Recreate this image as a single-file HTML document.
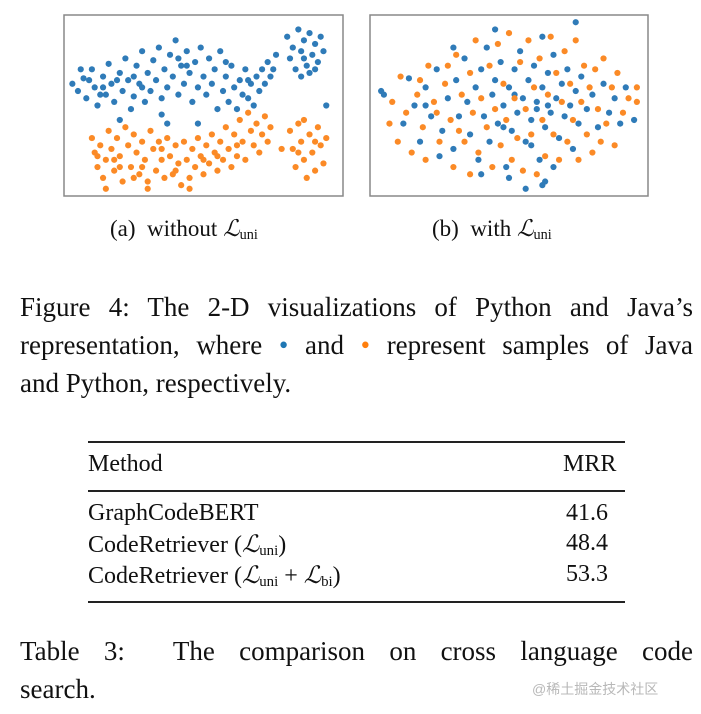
<!DOCTYPE html>
<html><head><meta charset="utf-8"><style>
body{margin:0;width:701px;height:714px;background:#fff;position:relative;overflow:hidden;font-family:"Liberation Serif",serif;color:#111}
.t{position:absolute;white-space:nowrap}
.p{position:absolute;left:20px;width:673px;font-size:27px;line-height:38px;text-align:justify;text-align-last:justify}
.rule{position:absolute;left:88px;width:537px;background:#222}
sub{font-size:0.62em;vertical-align:-0.2em}
</style></head><body>
<svg id="fig" width="701" height="210" style="position:absolute;left:0;top:0">
<rect x="64" y="15" width="279" height="181" fill="#fff" stroke="#888" stroke-width="1.5"/>
<rect x="370" y="15" width="278" height="181" fill="#fff" stroke="#888" stroke-width="1.5"/>
<g id="ga"></g><g id="gb"></g>
</svg>
<div class="t" style="left:110px;top:216px;font-size:23px">(a)&nbsp; without <i>ℒ</i><sub>uni</sub></div>
<div class="t" style="left:432px;top:216px;font-size:23px">(b)&nbsp; with <i>ℒ</i><sub>uni</sub></div>
<div class="p" style="top:288px">Figure 4: The 2-D visualizations of Python and Java’s</div>
<div class="p" style="top:326px">representation, where <span style="color:#1f77b4">•</span> and <span style="color:#ff7f0e">•</span> represent samples of Java</div>
<div class="p" style="top:364px;text-align-last:left">and Python, respectively.</div>
<div class="rule" style="top:441px;height:2px"></div>
<div class="rule" style="top:490px;height:1.5px"></div>
<div class="rule" style="top:601px;height:2px"></div>
<div class="t" style="left:88px;top:451px;font-size:24px">Method</div>
<div class="t" style="left:563px;top:451px;font-size:24px">MRR</div>
<div class="t" style="left:88px;top:500px;font-size:24px">GraphCodeBERT</div>
<div class="t" style="left:566px;top:500px;font-size:24px">41.6</div>
<div class="t" style="left:88px;top:530px;font-size:24px">CodeRetriever (<i>ℒ</i><sub>uni</sub>)</div>
<div class="t" style="left:566px;top:530px;font-size:24px">48.4</div>
<div class="t" style="left:88px;top:561px;font-size:24px">CodeRetriever (<i>ℒ</i><sub>uni</sub> + <i>ℒ</i><sub>bi</sub>)</div>
<div class="t" style="left:566px;top:561px;font-size:24px">53.3</div>
<div class="p" style="top:632px">Table 3:&nbsp; The comparison on cross language code</div>
<div class="p" style="top:670px;text-align-last:left">search.</div>
<div class="t" style="left:532px;top:679px;font-size:14px;color:#b8b8b8;font-family:'Liberation Sans','Noto Sans CJK SC',sans-serif">@稀土掘金技术社区</div>
<script>
const aBlue=[[3,38],[5,42],[7,35],[8,46],[10,30],[11,40],[12,50],[14,34],[15,44],[16,27],[17,38],[18,48],[20,32],[21,42],[22,24],[23,36],[24,52],[25,45],[26,28],[27,38],[28,20],[29,48],[30,32],[31,42],[32,25],[33,36],[34,18],[35,46],[36,30],[37,40],[38,22],[39,34],[40,14],[41,44],[42,28],[43,38],[44,20],[45,32],[46,48],[47,26],[48,40],[49,18],[50,34],[51,44],[52,24],[53,38],[54,30],[55,52],[56,20],[57,42],[58,34],[59,48],[60,28],[61,40],[62,52],[63,36],[64,44],[65,30],[66,46],[67,38],[68,50],[69,34],[70,42],[71,30],[72,38],[73,26],[74,34],[75,30],[76,22],[80,12],[81,24],[82,18],[83,30],[84,8],[85,20],[86,14],[87,28],[88,10],[89,22],[90,16],[91,26],[92,12],[93,20],[85,34],[88,32],[20,58],[35,55],[37,60],[48,60],[94,50],[13,44],[9,36],[19,36],[25,34],[41,24],[6,30],[14,40],[28,40],[44,28],[58,26],[66,36],[86,24],[90,30]];
const aOrange=[[10,68],[11,76],[12,84],[13,72],[14,90],[15,80],[16,64],[17,74],[18,86],[19,68],[20,78],[21,92],[22,62],[23,72],[24,84],[25,66],[26,76],[27,88],[28,70],[29,80],[30,92],[31,64],[32,74],[33,86],[34,70],[35,80],[36,90],[37,68],[38,78],[39,88],[40,72],[41,82],[42,94],[43,70],[44,80],[45,90],[46,74],[47,84],[48,68],[49,78],[50,88],[51,72],[52,82],[53,66],[54,76],[55,86],[56,70],[57,80],[58,62],[59,74],[60,84],[61,66],[62,78],[63,58],[64,70],[65,80],[66,54],[67,64],[68,72],[69,60],[70,76],[71,66],[72,56],[73,70],[74,62],[81,64],[82,74],[83,84],[84,60],[85,70],[86,80],[87,90],[88,66],[89,76],[90,86],[91,62],[92,72],[93,82],[94,68],[86,58],[15,96],[30,96],[45,96],[78,74],[20,84],[35,74],[50,80],[25,90],[12,78],[18,80],[28,84],[40,86],[55,78],[62,72],[84,76],[90,70]];
const bBlue=[[4,42],[5,44],[12,60],[14,35],[16,50],[18,70],[20,40],[22,56],[24,30],[26,64],[28,46],[30,74],[31,36],[32,56],[34,24],[35,48],[36,66],[38,40],[39,80],[40,30],[41,56],[42,18],[43,70],[44,44],[45,36],[46,60],[47,26],[48,50],[49,84],[50,40],[51,64],[52,30],[53,54],[54,20],[55,46],[56,70],[57,36],[58,58],[59,28],[60,48],[61,80],[62,40],[63,62],[64,32],[65,54],[66,22],[67,46],[68,68],[69,38],[70,56],[71,30],[72,50],[73,74],[74,42],[75,60],[76,34],[78,52],[80,44],[82,62],[84,38],[86,54],[88,46],[90,60],[92,40],[95,58],[56,96],[50,90],[62,94],[63,92],[74,4],[30,18],[62,12],[45,8],[58,72],[66,84],[40,88],[25,78],[20,50],[60,52],[64,50],[52,44],[48,62]];
const bOrange=[[7,60],[8,48],[10,70],[11,34],[13,54],[15,76],[17,44],[19,62],[21,28],[23,48],[25,70],[27,38],[29,58],[30,84],[31,22],[33,44],[34,70],[36,32],[37,54],[38,14],[39,76],[40,46],[42,62],[43,28],[44,84],[45,52],[46,16],[47,72],[48,38],[49,58],[50,10],[51,80],[52,46],[53,68],[54,26],[55,86],[56,52],[57,14],[58,66],[59,40],[60,88],[61,24],[62,58],[63,78],[64,44],[65,12],[66,66],[67,32],[68,80],[69,48],[70,20],[71,70],[72,38],[73,58],[74,14],[75,80],[76,48],[77,28],[78,66],[79,40],[80,76],[81,30],[82,52],[83,70],[84,24],[85,60],[87,40],[88,72],[89,32],[91,54],[93,46],[96,40],[96,48],[20,80],[28,28],[36,88],[24,54],[32,64],[18,36]];
function draw(gid,pts,color,x0,y0,w,h,name){
  const g=document.getElementById(gid);
  pts.forEach(p=>{
    const c=document.createElementNS('http://www.w3.org/2000/svg','circle');
    
    
    c.setAttribute('cx',x0+p[0]/100*w);
    c.setAttribute('cy',y0+p[1]/100*h);
    c.setAttribute('r',3.1);
    c.setAttribute('fill',color);
    g.appendChild(c);
  });
}
draw('ga',aBlue,'#2f7bb8',64,15,279,181,'java-point');
draw('ga',aOrange,'#fb8a26',64,15,279,181,'python-point');
draw('gb',bBlue,'#2f7bb8',370,15,278,181,'java-point');
draw('gb',bOrange,'#fb8a26',370,15,278,181,'python-point');
</script>
</body></html>
